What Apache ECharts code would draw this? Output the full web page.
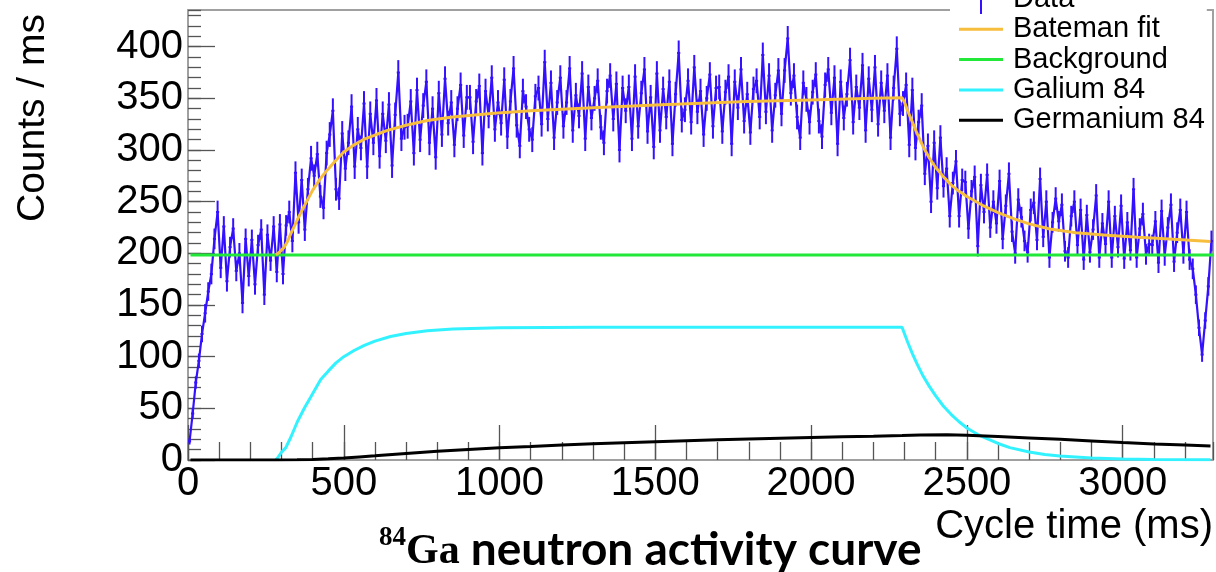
<!DOCTYPE html>
<html><head><meta charset="utf-8">
<script src="https://cdn.jsdelivr.net/npm/echarts@6/dist/echarts.min.js"></script>
<style>html,body{margin:0;padding:0;background:#fff}#c{width:1216px;height:572px}</style>
</head><body><div id="c"></div>
<script>
// ---- data ----
const binWidthMs = 10; // histogram bins of 10 ms, first bin starts at 0
const dataCounts = [
 18,45,75,96,122,142,163,180,214,240,
 186,226,173,206,224,183,200,152,214,178,
 213,170,208,223,160,218,193,226,182,228,
 180,227,240,212,278,230,271,223,262,292,
 275,296,255,244,297,315,338,262,253,316,
 282,307,342,284,320,302,345,284,335,307,
 348,294,335,309,344,285,334,375,311,322,
 323,347,297,358,310,343,366,307,340,293,
 355,315,369,326,346,305,340,363,314,351,
 351,308,347,362,297,357,333,370,320,346,
 326,368,313,347,379,324,304,357,342,320,
 310,352,360,325,385,330,365,312,346,370,
 323,346,379,319,353,333,374,311,361,331,
 350,367,322,307,357,372,330,364,300,360,
 338,361,311,371,323,355,378,318,351,303,
 374,319,359,332,366,306,354,394,329,339,
 367,327,380,337,357,315,350,373,323,360,
 361,318,356,371,306,366,341,378,328,354,
 317,359,367,332,392,337,372,319,353,377,
 335,377,408,355,372,332,312,365,349,327,
 356,373,328,313,363,378,336,370,306,366,
 331,354,387,327,361,341,382,319,369,339,
 380,325,365,338,372,312,360,398,335,345,
 363,305,358,302,327,343,277,304,250,307,
 263,312,265,282,236,268,289,236,271,269,
 224,260,274,207,266,240,276,225,250,229,
 270,214,246,277,221,200,252,235,212,201,
 242,249,213,272,216,250,196,230,253,231,
 247,202,196,236,250,208,242,194,237,201,
 223,256,196,229,209,250,196,236,206,246,
 195,230,203,262,196,224,238,199,209,208,
 231,191,241,198,225,247,192,220,242,200,
 240,194,185,160,128,102,135,168,212
];
const dataErrors = [
 3,5,6,7,8,9,9,10,10,11,
 10,10,10,10,10,10,10,10,10,10,
 10,10,10,10,10,10,10,10,10,10,
 10,10,11,11,11,11,11,11,11,12,
 11,12,11,11,12,12,12,11,11,12,
 12,12,12,12,12,12,12,12,12,12,
 12,12,12,12,12,12,12,12,12,12,
 12,12,12,12,12,12,12,12,12,12,
 12,12,12,12,12,12,12,12,12,12,
 12,12,12,12,12,12,12,12,12,12,
 12,12,12,12,12,12,12,12,12,12,
 12,12,12,12,12,12,12,12,12,12,
 12,12,12,12,12,12,12,12,12,12,
 12,12,12,12,12,12,12,12,12,12,
 12,12,12,12,12,12,12,12,12,12,
 12,12,12,12,12,12,12,12,12,12,
 12,12,12,12,12,12,12,12,12,12,
 12,12,12,12,12,12,12,12,12,12,
 12,12,12,12,12,12,12,12,12,12,
 12,12,12,12,12,12,12,12,12,12,
 12,12,12,12,12,12,12,12,12,12,
 12,12,12,12,12,12,12,12,12,12,
 12,12,12,12,12,12,12,12,12,12,
 12,12,12,12,12,12,11,12,11,12,
 11,12,11,11,11,11,11,11,11,11,
 10,11,11,10,11,11,11,10,11,10,
 11,10,11,11,10,10,11,10,10,10,
 11,11,10,11,10,11,10,10,11,10,
 11,10,10,10,11,10,11,10,10,10,
 10,11,10,10,10,11,10,10,10,11,
 10,10,10,11,10,10,11,10,10,10,
 10,10,11,10,10,11,10,10,11,10,
 11,10,10,9,8,7,8,9,10
];
const batemanFit = [[282,198.5],[295,201.5],[309,206],[320,212],[330,219],[350,232],[370,244],[384,252],[400,261],[425,272.5],[448,281],[475,290],[500,298],[533,305],[566,310.5],[600,314.5],[640,319],[700,324],[768,328.5],[850,332],[982,335.5],[1100,338],[1300,341],[1500,343.5],[1794,347],[2000,348.5],[2200,350],[2292,350.5],[2300,346],[2310,338],[2325,327],[2340,316],[2360,303],[2380,292],[2400,283],[2425,274],[2450,266],[2475,260],[2500,255],[2550,246.5],[2600,239.5],[2650,233.5],[2700,228.5],[2766,223.5],[2850,220],[2950,217.5],[3050,215.5],[3150,213.8],[3282,211.5]];
const backgroundFit = [[8,198.5],[3290,198.5]];
const galium84 = [[282,0],[290,3],[300,7.5],[314,12],[330,22],[351,37],[375,51],[394,61],[426,78],[450,86],[475,94],[500,100],[533,106],[566,111],[600,115],[650,119.5],[700,122.5],[768,125],[850,126.8],[1000,128],[1300,128.5],[2292,128.5],[2300,122],[2310,114],[2325,103],[2340,93],[2360,81],[2380,71],[2400,62],[2425,52],[2450,44],[2475,37],[2500,31],[2542,23.5],[2600,16],[2638,12],[2700,7.7],[2750,5.3],[2798,3.8],[2900,1.9],[3000,0.9],[3100,0.5],[3282,0.2]];
const germanium84 = [[8,0],[282,0],[350,0.2],[400,0.6],[450,1.2],[500,2],[550,3],[600,4],[700,6.3],[800,8.4],[900,10.2],[1000,11.8],[1100,13],[1200,14.5],[1300,15.7],[1400,16.8],[1500,17.7],[1600,18.6],[1700,19.5],[1800,20.3],[1900,21.1],[2000,21.8],[2100,22.5],[2200,23.1],[2292,23.7],[2350,24.2],[2436,24.5],[2500,24],[2600,22.8],[2700,21.4],[2800,20],[2900,18.5],[3000,16.9],[3100,15.6],[3200,14.5],[3282,13.5]];
const xRange = [0, 3290];
const yRange = [0, 435.5];
const xMajorStep = 500, xMinorStep = 100;
const yMajorStep = 50, yMinorStep = 10;
const seriesNames = ['Data','Bateman fit','Background','Galium 84','Germanium 84'];
const titleParts = ['84','Ga',' neutron activity curve'];
const xTitle = 'Cycle time (ms)';
const yTitle = 'Counts / ms';

// ---- build ----
const dataPts = dataCounts.map((v,i)=>[i*binWidthMs + binWidthMs/2, v, dataErrors[i]]);
const FONT = '"Liberation Sans", Arial, Helvetica, sans-serif';
const gray = '#a0a0a0', tickCol = '#555';
const cBlue = '#3311ff', cOrange = '#f7bd3d', cGreen = '#22e83a', cCyan = '#33f2ff', cBlack = '#000000';
const lineIcon = 'path://M0,0h0.01v0.01h-0.01Z M0,13.5H44V16.5H0Z M43.99,29.99h0.01v0.01h-0.01Z';
const dataIcon = 'path://M0,0h0.01v0.01h-0.01Z M21,0H23V30H21Z M0,14H44V16H0Z M43.99,29.99h0.01v0.01h-0.01Z';
const plainNum = v => String(Math.round(v));

function xAx(extra){ return Object.assign({type:'value',min:xRange[0],max:xRange[1],splitLine:{show:false},axisLine:{show:false,onZero:false},axisTick:{show:false},axisLabel:{show:false}},extra); }
function yAx(extra){ return Object.assign({type:'value',min:yRange[0],max:yRange[1],splitLine:{show:false},axisLine:{show:false,onZero:false},axisTick:{show:false},axisLabel:{show:false}},extra); }

function renderErrorBar(params, api){
  const t = api.value(0), v = api.value(1), e = api.value(2);
  const top = api.coord([t, v + e]), bot = api.coord([t, v - e]);
  const l = api.coord([t - binWidthMs/2, v]), r = api.coord([t + binWidthMs/2, v]);
  const st = {stroke:cBlue, lineWidth:2};
  return {type:'group', children:[
    {type:'line', shape:{x1:top[0],y1:top[1],x2:bot[0],y2:bot[1]}, style:st},
    {type:'line', shape:{x1:l[0],y1:l[1],x2:r[0],y2:r[1]}, style:st}
  ]};
}

const chart = echarts.init(document.getElementById('c'), null, {renderer:'canvas'});
chart.setOption({
  animation:false,
  backgroundColor:'#fff',
  grid:{left:188,right:3,top:10,bottom:112,show:false},
  xAxis:[
    xAx({position:'bottom',interval:xMajorStep,
      axisLine:{show:true,onZero:false,lineStyle:{color:gray,width:2}},
      axisTick:{show:true,inside:true,length:35,lineStyle:{color:tickCol,width:1.3}},
      axisLabel:{show:true,showMaxLabel:false,margin:4,fontSize:40,color:'#000',fontFamily:FONT,formatter:plainNum}}),
    xAx({position:'bottom',interval:xMinorStep,
      axisTick:{show:true,inside:true,length:18,lineStyle:{color:tickCol,width:1.3}}}),
    xAx({position:'top',axisLine:{show:true,onZero:false,lineStyle:{color:gray,width:2}}})
  ],
  yAxis:[
    yAx({position:'left',interval:yMajorStep,
      axisLine:{show:true,onZero:false,lineStyle:{color:gray,width:2}},
      axisTick:{show:true,inside:true,length:27,lineStyle:{color:tickCol,width:1.3}},
      axisLabel:{show:true,showMaxLabel:false,margin:5,fontSize:40,color:'#000',fontFamily:FONT,formatter:plainNum}}),
    yAx({position:'left',interval:yMinorStep,
      axisTick:{show:true,inside:true,length:13,lineStyle:{color:tickCol,width:1.3}}}),
    yAx({position:'right',axisLine:{show:true,onZero:false,lineStyle:{color:gray,width:2}}})
  ],
  legend:{
    orient:'vertical', left:950, top:-16, padding:[0,2,3,9], backgroundColor:'#fff',
    itemWidth:44, itemHeight:30, itemGap:0.3, z:20,
    itemStyle:{borderWidth:0},
    textStyle:{fontSize:29, lineHeight:30, fontFamily:FONT, color:'#000', padding:[0,0,0,5]},
    data:[
      {name:seriesNames[0], icon:dataIcon},
      {name:seriesNames[1], icon:lineIcon},
      {name:seriesNames[2], icon:lineIcon},
      {name:seriesNames[3], icon:lineIcon},
      {name:seriesNames[4], icon:lineIcon}
    ]
  },
  title:{
    left:374, top:520,
    text:'{s|'+titleParts[0]+'}{g|'+titleParts[1]+'}{r|'+titleParts[2]+'}',
    textStyle:{rich:{
      s:{fontFamily:'"Liberation Serif", serif',fontWeight:'bold',fontSize:27,color:'#000',verticalAlign:'top',lineHeight:27},
      g:{fontFamily:'"Liberation Serif", serif',fontWeight:'bold',fontSize:42,color:'#000',lineHeight:48,verticalAlign:'bottom'},
      r:{fontFamily:'Lato, "Open Sans", sans-serif',fontWeight:'bold',fontSize:46,color:'#000',lineHeight:48,verticalAlign:'bottom'}
    }}
  },
  graphic:[
    {type:'text', x:33, y:118, rotation:Math.PI/2, z:10,
     style:{text:yTitle, fontSize:39, fontFamily:FONT, fill:'#000', align:'center', verticalAlign:'middle', textAlign:'center', textVerticalAlign:'middle'}},
    {type:'text', x:1213, y:527, z:10,
     style:{text:xTitle, fontSize:40, fontFamily:FONT, fill:'#000', align:'right', verticalAlign:'middle', textAlign:'right', textVerticalAlign:'middle'}}
  ],
  series:[
    {name:seriesNames[0], type:'line', data:dataPts, showSymbol:false, symbol:'none', z:2,
     encode:{x:0, y:1}, color:cBlue, itemStyle:{color:cBlue}, lineStyle:{color:cBlue,width:2.2}},
    {name:seriesNames[0], type:'custom', data:dataPts, renderItem:renderErrorBar, clip:true, z:2,
     encode:{x:0, y:1}, color:cBlue, itemStyle:{color:cBlue}},
    {name:seriesNames[1], type:'line', data:batemanFit, showSymbol:false, symbol:'none', z:6,
     color:cOrange, itemStyle:{color:cOrange}, lineStyle:{color:cOrange,width:3}},
    {name:seriesNames[2], type:'line', data:backgroundFit, showSymbol:false, symbol:'none', z:5,
     color:cGreen, itemStyle:{color:cGreen}, lineStyle:{color:cGreen,width:3}},
    {name:seriesNames[3], type:'line', data:galium84, showSymbol:false, symbol:'none', z:4,
     color:cCyan, itemStyle:{color:cCyan}, lineStyle:{color:cCyan,width:3}},
    {name:seriesNames[4], type:'line', data:germanium84, showSymbol:false, symbol:'none', z:4,
     color:cBlack, itemStyle:{color:cBlack}, lineStyle:{color:cBlack,width:3}}
  ]
});
</script>
</body></html>
